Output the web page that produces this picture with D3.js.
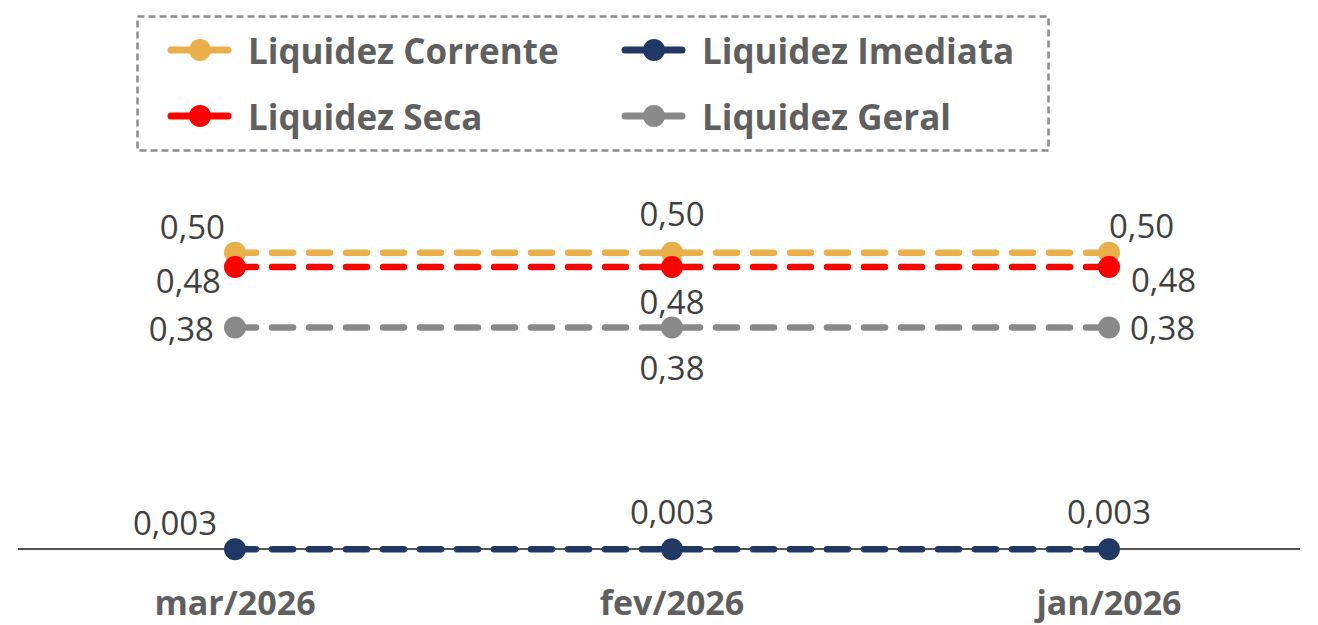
<!DOCTYPE html>
<html>
<head>
<meta charset="utf-8">
<script src="https://cdn.jsdelivr.net/npm/d3@7"></script>
<style>
  body { margin: 0; background: #fff; }
  text { font-family: "Open Sans", sans-serif; }
</style>
</head>
<body>
<div id="chart"></div>
<script>
(function () {
  "use strict";

  /***** Données *****/
  var months = ["mar/2026", "fev/2026", "jan/2026"];
  var corrente = [0.502, 0.502, 0.502];
  var seca = [0.478, 0.478, 0.478];
  var geral = [0.376, 0.376, 0.376];
  var imediata = [0.003, 0.003, 0.003];

  var seriesNames = ["Liquidez Corrente", "Liquidez Imediata", "Liquidez Seca", "Liquidez Geral"];
  var seriesColors = ["#E9AF4B", "#203864", "#FF0000", "#898989"];

  var width = 1318, height = 625;

  var series = [
    {name: seriesNames[0], color: seriesColors[0], values: corrente, fmt: ",.2f"},
    {name: seriesNames[1], color: seriesColors[1], values: imediata, fmt: ",.3f"},
    {name: seriesNames[2], color: seriesColors[2], values: seca, fmt: ",.2f"},
    {name: seriesNames[3], color: seriesColors[3], values: geral, fmt: ",.2f"}
  ];

  // positions des étiquettes par série et par point : [dx, dy, ancre]
  var labelPos = {
    "Liquidez Corrente": [[-10, -26, "end"], [0, -39, "middle"], [0, -27, "start"]],
    "Liquidez Seca": [[-14, 14, "end"], [0, 35, "middle"], [22, 13, "start"]],
    "Liquidez Geral": [[-21, 1, "end"], [0, 40, "middle"], [21, 0, "start"]],
    "Liquidez Imediata": [[-18, -27, "end"], [0, -38, "middle"], [0, -38, "middle"]]
  };

  var pt = d3.formatLocale({decimal: ",", thousands: ".", grouping: [3], currency: ["R$", ""]});

  var svg = d3.select("#chart").append("svg")
    .attr("width", width)
    .attr("height", height);

  var x = d3.scalePoint()
    .domain(months)
    .range([235, 1109]);

  var y = d3.scaleLinear()
    .domain([0, 0.6])
    .range([551, 194.4]);

  // axe horizontal
  svg.append("line")
    .attr("x1", 18).attr("x2", 1300)
    .attr("y1", y(0) - 2).attr("y2", y(0) - 2)
    .attr("stroke", "#1a1a1a")
    .attr("stroke-width", 1.5);

  var line = d3.line()
    .x(function (d, i) { return x(months[i]); })
    .y(function (d) { return y(d) ; });

  var g = svg.selectAll("g.serie")
    .data(series)
    .enter().append("g")
    .attr("class", "serie");

  g.append("path")
    .attr("d", function (s) { return line(s.values); })
    .attr("fill", "none")
    .attr("stroke", function (s) { return s.color; })
    .attr("stroke-width", 6.5)
    .attr("stroke-linecap", "round")
    .attr("stroke-dasharray", "21,16");

  g.selectAll("circle")
    .data(function (s) { return s.values.map(function (v, i) { return {v: v, i: i, s: s}; }); })
    .enter().append("circle")
    .attr("cx", function (d) { return x(months[d.i]); })
    .attr("cy", function (d) { return y(d.v); })
    .attr("r", 11)
    .attr("fill", function (d) { return d.s.color; });

  g.selectAll("text.lbl")
    .data(function (s) { return s.values.map(function (v, i) { return {v: v, i: i, s: s}; }); })
    .enter().append("text")
    .attr("class", "lbl")
    .attr("x", function (d) { return x(months[d.i]) + labelPos[d.s.name][d.i][0]; })
    .attr("y", function (d) { return y(d.v) + labelPos[d.s.name][d.i][1]; })
    .attr("text-anchor", function (d) { return labelPos[d.s.name][d.i][2]; })
    .attr("dominant-baseline", "central")
    .attr("font-size", 33)
    .attr("fill", "#404040")
    .text(function (d) { return pt.format(d.s.fmt)(d.v); });

  // étiquettes de l'axe x
  svg.selectAll("text.month")
    .data(months)
    .enter().append("text")
    .attr("class", "month")
    .attr("x", function (d) { return x(d); })
    .attr("y", 602)
    .attr("text-anchor", "middle")
    .attr("dominant-baseline", "central")
    .attr("font-size", 34)
    .attr("font-weight", "bold")
    .attr("fill", "#5f5f5f")
    .text(function (d) { return d; });

  // légende
  var legend = svg.append("g");
  legend.append("rect")
    .attr("x", 137.5).attr("y", 16.5)
    .attr("width", 911).attr("height", 134)
    .attr("fill", "none")
    .attr("stroke", "#8c8c8c")
    .attr("stroke-width", 2.5)
    .attr("stroke-dasharray", "7,4");

  var items = legend.selectAll("g.item")
    .data(series)
    .enter().append("g")
    .attr("class", "item")
    .attr("transform", function (s, i) {
      return "translate(" + (i % 2 === 0 ? 168 : 622) + "," + (i < 2 ? 50 : 116) + ")";
    });

  items.append("line")
    .attr("x1", 3).attr("x2", 60)
    .attr("stroke", function (s) { return s.color; })
    .attr("stroke-width", 7)
    .attr("stroke-linecap", "round");

  items.append("circle")
    .attr("cx", 32).attr("r", 11)
    .attr("fill", function (s) { return s.color; });

  items.append("text")
    .attr("x", 80)
    .attr("dominant-baseline", "central")
    .attr("font-size", 35)
    .attr("font-weight", "bold")
    .attr("fill", "#5f5f5f")
    .text(function (s) { return s.name; });
})();
</script>
</body>
</html>
